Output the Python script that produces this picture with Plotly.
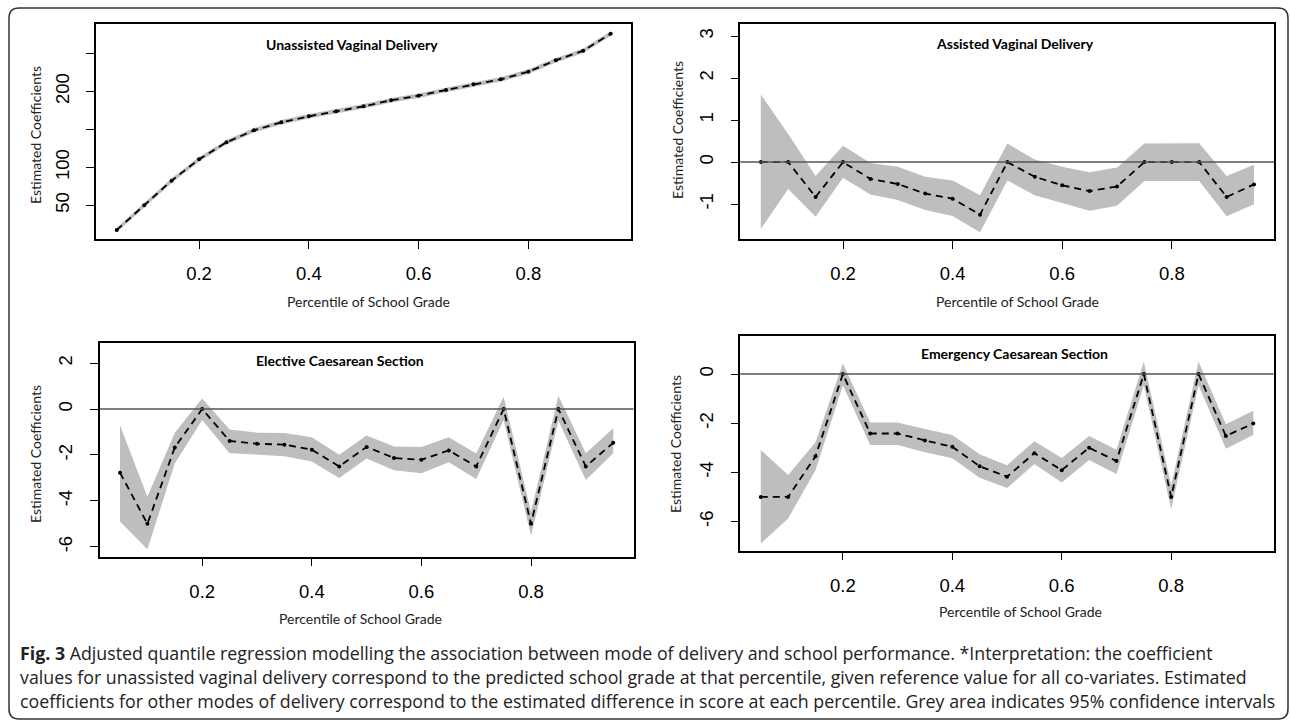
import plotly.graph_objects as go

# ---------------- data ----------------
pct = [0.05, 0.10, 0.15, 0.20, 0.25, 0.30, 0.35, 0.40, 0.45, 0.50,
       0.55, 0.60, 0.65, 0.70, 0.75, 0.80, 0.85, 0.90, 0.95]

# Unassisted vaginal delivery
uvd = [17.5, 50.0, 82.5, 110.5, 132.9, 148.7, 159.2, 167.1, 173.7, 180.3,
       188.2, 194.3, 201.8, 209.2, 215.8, 225.9, 240.8, 253.5, 275.9]
uvd_lo = [14.5, 47.0, 79.5, 107.5, 129.9, 145.7, 156.2, 164.1, 170.7, 177.3,
          185.2, 191.3, 198.8, 206.2, 212.8, 222.9, 237.8, 250.5, 272.9]
uvd_hi = [20.5, 53.0, 85.5, 113.5, 135.9, 151.7, 162.2, 170.1, 176.7, 183.3,
          191.2, 197.3, 204.8, 212.2, 218.8, 228.9, 243.8, 256.5, 278.9]

# Assisted vaginal delivery
avd = [0.0, 0.0, -0.83, 0.0, -0.40, -0.52, -0.75, -0.87, -1.25, 0.0,
       -0.35, -0.55, -0.69, -0.58, 0.0, 0.0, 0.0, -0.83, -0.53]
avd_lo = [-1.59, -0.64, -1.30, -0.37, -0.77, -0.90, -1.14, -1.28, -1.67, -0.44,
          -0.79, -0.97, -1.16, -1.04, -0.45, -0.45, -0.45, -1.29, -1.00]
avd_hi = [1.61, 0.67, -0.33, 0.39, -0.02, -0.11, -0.35, -0.44, -0.79, 0.44,
          0.06, -0.11, -0.24, -0.13, 0.44, 0.44, 0.45, -0.33, -0.06]

# Elective caesarean section
ecs = [-2.77, -5.00, -1.67, 0.0, -1.39, -1.51, -1.55, -1.77, -2.50, -1.65,
       -2.13, -2.21, -1.80, -2.50, 0.0, -5.00, 0.0, -2.50, -1.47]
ecs_lo = [-4.90, -6.11, -2.37, -0.48, -1.92, -2.00, -2.05, -2.28, -3.00, -2.15,
          -2.66, -2.80, -2.32, -3.05, -0.48, -5.52, -0.51, -3.09, -1.93]
ecs_hi = [-0.70, -3.82, -1.03, 0.46, -0.89, -1.03, -1.04, -1.23, -1.99, -1.15,
          -1.63, -1.65, -1.23, -1.94, 0.54, -4.48, 0.58, -1.92, -0.84]

# Emergency caesarean section
emcs = [-5.00, -5.00, -3.35, 0.0, -2.42, -2.42, -2.70, -2.96, -3.75, -4.18,
        -3.22, -3.91, -3.00, -3.54, 0.0, -5.00, 0.0, -2.52, -2.01]
emcs_lo = [-6.90, -5.88, -3.91, -0.45, -2.89, -2.89, -3.18, -3.43, -4.22, -4.64,
           -3.66, -4.41, -3.50, -4.07, -0.45, -5.50, -0.45, -3.04, -2.48]
emcs_hi = [-3.09, -4.11, -2.78, 0.43, -1.97, -1.97, -2.24, -2.48, -3.26, -3.71,
           -2.73, -3.42, -2.52, -3.08, 0.50, -4.52, 0.50, -2.04, -1.49]

panel_titles = ["Unassisted Vaginal Delivery", "Assisted Vaginal Delivery",
                "Elective Caesarean Section", "Emergency Caesarean Section"]
x_ticks = [0.2, 0.4, 0.6, 0.8]
x_ticktext = ["0.2", "0.4", "0.6", "0.8"]
y_ticks = [[50, 100, 150, 200, 250], [-1, 0, 1, 2, 3],
           [-6, -4, -2, 0, 2], [-6, -4, -2, 0]]
y_ticktext = [["50", "100", "", "200", ""], ["-1", "0", "1", "2", "3"],
              ["-6", "-4", "-2", "0", "2"], ["-6", "-4", "-2", "0"]]
x_title = "Percentile of School Grade"
y_title = "Estimated Coefficients"
caption = [
    "<b>Fig. 3</b> Adjusted quantile regression modelling the association between mode of delivery and school performance. *Interpretation: the coefficient",
    "values for unassisted vaginal delivery correspond to the predicted school grade at that percentile, given reference value for all co-variates. Estimated",
    "coefficients for other modes of delivery correspond to the estimated difference in score at each percentile. Grey area indicates 95% confidence intervals",
]

# ---------------- layout helpers ----------------
W, H = 1290, 722


def px(x):
    return x / W


def py(y):
    return 1 - y / H


# plot boxes in pixels: (left, right, top, bottom)
boxes = [(96.2, 631.0, 24.3, 239.0), (740.3, 1274.3, 24.3, 239.0),
         (99.5, 633.5, 342.7, 556.7), (740.3, 1273.5, 336.0, 550.7)]
y_ranges = [[5.7, 288.2], [-1.83, 3.28], [-6.43, 2.89], [-7.19, 1.55]]
x_range = [0.0126, 0.987]

series = [(uvd, uvd_lo, uvd_hi), (avd, avd_lo, avd_hi),
          (ecs, ecs_lo, ecs_hi), (emcs, emcs_lo, emcs_hi)]

fig = go.Figure()
layout = dict(width=W, height=H, margin=dict(l=0, r=0, t=0, b=0),
              paper_bgcolor="white", plot_bgcolor="white", showlegend=False,
              autosize=False)

tick_font = dict(family="Liberation Sans, Arial", size=18.5, color="black")
label_font = dict(family="Lato, Open Sans", size=14, color="#222")
title_font = dict(family="Lato, Open Sans", size=14, color="black")

annotations = []
shapes = []

for i, (vals, lo, hi) in enumerate(series):
    n = i + 1
    xa = "x" if n == 1 else f"x{n}"
    ya = "y" if n == 1 else f"y{n}"
    fig.add_trace(go.Scatter(x=pct, y=lo, mode="lines", line=dict(width=0, color="#bebebe"),
                             xaxis=xa, yaxis=ya, hoverinfo="skip"))
    fig.add_trace(go.Scatter(x=pct, y=hi, mode="lines", line=dict(width=0, color="#bebebe"),
                             fill="tonexty", fillcolor="#bebebe",
                             xaxis=xa, yaxis=ya, hoverinfo="skip"))
    fig.add_trace(go.Scatter(x=pct, y=vals, mode="lines+markers",
                             line=dict(color="black", width=1.8, dash="7px,5px"),
                             marker=dict(color="black", size=4),
                             xaxis=xa, yaxis=ya))
    l, r, t, b = boxes[i]
    xkey = "xaxis" if n == 1 else f"xaxis{n}"
    ykey = "yaxis" if n == 1 else f"yaxis{n}"
    layout[xkey] = dict(domain=[px(l), px(r)], anchor=ya, range=x_range,
                        tickvals=x_ticks, ticktext=x_ticktext, ticks="outside",
                        ticklen=8, tickwidth=1.3, tickcolor="black",
                        showline=True, linecolor="black", linewidth=1.5, mirror=True,
                        showgrid=False, zeroline=False, tickfont=tick_font,
                        ticklabelstandoff=9)
    layout[ykey] = dict(domain=[py(b), py(t)], anchor=xa, range=y_ranges[i],
                        tickvals=y_ticks[i], ticktext=y_ticktext[i], ticks="outside",
                        ticklen=8, tickwidth=1.3, tickcolor="black", tickangle=-90,
                        showline=True, linecolor="black", linewidth=1.5, mirror=True,
                        showgrid=False, zeroline=False, tickfont=tick_font,
                        ticklabelstandoff=10)
    if i > 0:
        shapes.append(dict(type="line", xref=f"{xa} domain", yref=ya, x0=0, x1=1, y0=0, y1=0,
                           line=dict(color="#555555", width=1.5), layer="above"))

# panel titles
title_pos = [(352, 45), (1015, 44), (339.5, 360), (1015, 353)]
for (x, y), txt in zip(title_pos, panel_titles):
    annotations.append(dict(text=f"<b>{txt}</b>", x=px(x), y=py(y), xref="paper", yref="paper",
                            showarrow=False, xanchor="center", yanchor="middle", font=title_font))

# axis titles
xt_pos = [(369, 301), (1017, 301), (360, 618), (1020, 611)]
for x, y in xt_pos:
    annotations.append(dict(text=x_title, x=px(x), y=py(y), xref="paper", yref="paper",
                            showarrow=False, xanchor="center", yanchor="middle", font=label_font))
yt_pos = [(35, 135), (677, 130), (35, 454), (675, 444)]
for x, y in yt_pos:
    annotations.append(dict(text=y_title, x=px(x), y=py(y), xref="paper", yref="paper",
                            showarrow=False, xanchor="center", yanchor="middle", textangle=-90,
                            font=label_font))

# caption
cap_y = [653, 677, 701]
for txt, y in zip(caption, cap_y):
    annotations.append(dict(text=txt, x=px(18), y=py(y), xref="paper", yref="paper",
                            showarrow=False, xanchor="left", yanchor="middle",
                            font=dict(family="Open Sans", size=17.8, color="#222")))

# outer rounded frame
x0, x1, y0, y1, rr = 9, 1288, 8, 719, 10
path = (f"M {px(x0 + rr)},{py(y0)} L {px(x1 - rr)},{py(y0)} "
        f"Q {px(x1)},{py(y0)} {px(x1)},{py(y0 + rr)} L {px(x1)},{py(y1 - rr)} "
        f"Q {px(x1)},{py(y1)} {px(x1 - rr)},{py(y1)} L {px(x0 + rr)},{py(y1)} "
        f"Q {px(x0)},{py(y1)} {px(x0)},{py(y1 - rr)} L {px(x0)},{py(y0 + rr)} "
        f"Q {px(x0)},{py(y0)} {px(x0 + rr)},{py(y0)} Z")
shapes.append(dict(type="path", xref="paper", yref="paper", path=path,
                   line=dict(color="#333333", width=1.5)))

layout["annotations"] = annotations
layout["shapes"] = shapes
fig.update_layout(**layout)
fig.write_html("out.html", config={"displayModeBar": False},
               post_script="document.body.style.margin='0';document.body.style.overflow='hidden';")
